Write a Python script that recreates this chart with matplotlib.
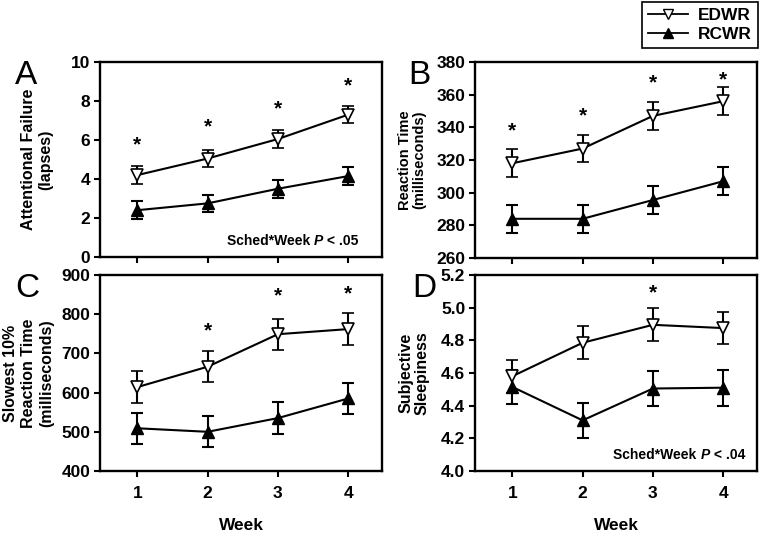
import matplotlib.pyplot as plt
from matplotlib.lines import Line2D
from matplotlib.font_manager import FontProperties

plt.rcParams['font.family'] = ['Liberation Sans', 'DejaVu Sans']

weeks = [1, 2, 3, 4]

# Panel A - attentional failure (lapses)
a_edwr = [4.2, 5.05, 6.05, 7.3]
a_edwr_err = [0.45, 0.45, 0.45, 0.45]
a_rcwr = [2.4, 2.75, 3.5, 4.15]
a_rcwr_err = [0.45, 0.45, 0.45, 0.45]
a_star_weeks = [1, 2, 3, 4]
a_star_y = [5.75, 6.65, 7.6, 8.8]

# Panel B - reaction time (ms)
b_edwr = [318, 327, 347, 356]
b_edwr_err = [8.5, 8.5, 8.5, 8.5]
b_rcwr = [284, 284, 295.5, 307]
b_rcwr_err = [8.5, 8.5, 8.5, 8.5]
b_star_weeks = [1, 2, 3, 4]
b_star_y = [338, 347, 367, 369]

# Panel C - slowest 10% reaction time (ms)
c_edwr = [614, 666, 749, 762]
c_edwr_err = [40, 40, 40, 40]
c_rcwr = [509, 500, 535, 585]
c_rcwr_err = [40, 40, 40, 40]
c_star_weeks = [2, 3, 4]
c_star_y = [757, 846, 853]

# Panel D - subjective sleepiness
d_edwr = [4.58, 4.785, 4.895, 4.875]
d_edwr_err = [0.1, 0.1, 0.1, 0.1]
d_rcwr = [4.515, 4.31, 4.505, 4.51]
d_rcwr_err = [0.105, 0.105, 0.105, 0.11]
d_star_weeks = [3]
d_star_y = [5.09]

W, H = 762, 536
fig = plt.figure(figsize=(W / 100, H / 100), dpi=100)


def box(l, t, r, b):
    return [l / W, (H - b) / H, (r - l) / W, (b - t) / H]


def draw_panel(ax, edwr, edwr_err, rcwr, rcwr_err, star_w, star_y,
               ylim, yticks, fmt, ylabel, ylab_size, ylab_x, ylab_ls,
               letter, letter_x, show_x):
    ax.errorbar(weeks, rcwr, yerr=rcwr_err, color='black', lw=1.5,
                marker='^', ms=8, mfc='black', mec='black',
                capsize=4, elinewidth=1.5, capthick=1.5, zorder=3)
    ax.errorbar(weeks, edwr, yerr=edwr_err, color='black', lw=1.5,
                marker='v', ms=8, mfc='white', mec='black', mew=1.2,
                capsize=4, elinewidth=1.5, capthick=1.5, zorder=3)
    for w, y in zip(star_w, star_y):
        ax.text(w, y, '*', ha='center', va='center', fontsize=15,
                fontweight='bold')
    ax.set_xlim(0.47, 4.48)
    ax.set_ylim(*ylim)
    ax.set_yticks(yticks)
    ax.set_yticklabels([fmt.format(v) for v in yticks])
    ax.set_xticks(weeks)
    if show_x:
        ax.set_xticklabels([str(w) for w in weeks])
        ax.set_xlabel('Week', fontsize=12.5, fontweight='bold', labelpad=12)
    else:
        ax.set_xticklabels([])
    ax.tick_params(direction='out', length=4, width=1.5, labelsize=12.5)
    ax.tick_params(axis='x', pad=7)
    ax.tick_params(axis='y', pad=3)
    for lab in ax.get_xticklabels() + ax.get_yticklabels():
        lab.set_fontweight('bold')
    for s in ax.spines.values():
        s.set_linewidth(1.7)
    ax.set_ylabel(ylabel, fontsize=ylab_size, fontweight='bold',
                  linespacing=ylab_ls, va='center')
    ax.yaxis.set_label_coords(ylab_x, 0.5)
    ax.text(letter_x, 1.01, letter, transform=ax.transAxes, fontsize=24,
            ha='left', va='top')


def add_pvalue(ax, x, label):
    t1 = ax.text(x, 0.045, 'Sched*Week ', transform=ax.transAxes,
                 fontsize=10, fontweight='bold', va='bottom')
    t2 = ax.annotate('P', xy=(1, 0), xycoords=t1, fontsize=10,
                     fontweight='bold', fontstyle='italic', va='bottom')
    ax.annotate(' < ' + label, xy=(1, 0), xycoords=t2, fontsize=10,
                fontweight='bold', va='bottom')


ax_a = fig.add_axes(box(100, 62, 382, 257))
ax_b = fig.add_axes(box(475, 62, 757, 258))
ax_c = fig.add_axes(box(100, 275, 382, 471))
ax_d = fig.add_axes(box(475, 275, 757, 471))

draw_panel(ax_a, a_edwr, a_edwr_err, a_rcwr, a_rcwr_err, a_star_weeks,
           a_star_y, (0, 10), [0, 2, 4, 6, 8, 10], '{:.0f}',
           'Attentional Failure\n(lapses)', 11.5, -0.222, 1.15,
           'A', -0.30, False)
draw_panel(ax_b, b_edwr, b_edwr_err, b_rcwr, b_rcwr_err, b_star_weeks,
           b_star_y, (260, 380), [260, 280, 300, 320, 340, 360, 380],
           '{:.0f}', 'Reaction Time\n(milliseconds)', 10.5, -0.222, 1.0,
           'B', -0.238, False)
draw_panel(ax_c, c_edwr, c_edwr_err, c_rcwr, c_rcwr_err, c_star_weeks,
           c_star_y, (400, 900), [400, 500, 600, 700, 800, 900], '{:.0f}',
           'Slowest 10%\nReaction Time\n(milliseconds)', 11.5, -0.252, 1.25,
           'C', -0.30, True)
draw_panel(ax_d, d_edwr, d_edwr_err, d_rcwr, d_rcwr_err, d_star_weeks,
           d_star_y, (4.0, 5.2), [4.0, 4.2, 4.4, 4.6, 4.8, 5.0, 5.2],
           '{:.1f}', 'Subjective\nSleepiness', 11.5, -0.216, 1.1,
           'D', -0.224, True)

add_pvalue(ax_a, 0.45, '.05')
add_pvalue(ax_d, 0.49, '.04')

handles = [
    Line2D([], [], color='black', lw=1.3, marker='v', ms=6.5, mfc='white',
           mec='black'),
    Line2D([], [], color='black', lw=1.3, marker='^', ms=6.5, mfc='black',
           mec='black'),
]
legend_font = FontProperties(family=['Liberation Sans', 'DejaVu Sans'],
                             weight='bold', size=12.5)
leg = fig.legend(handles, ['EDWR', 'RCWR'], loc='upper right',
                 bbox_to_anchor=(758 / W, 0.997), fancybox=False,
                 edgecolor='black', framealpha=1, handlelength=2.3,
                 borderpad=0.35, labelspacing=0.25, handletextpad=0.6,
                 borderaxespad=0, prop=legend_font)
leg.get_frame().set_linewidth(1.2)

fig.savefig('out.png', dpi=100)
